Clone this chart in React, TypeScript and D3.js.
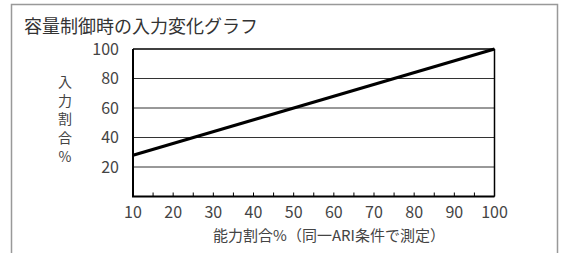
import React from "react";
import * as d3 from "d3";

const title = "容量制御時の入力変化グラフ";
const xTicks = [10, 20, 30, 40, 50, 60, 70, 80, 90, 100];
const xMinorTicks = [15, 25, 35, 45, 55, 65, 75, 85, 95];
const yTicks = [20, 40, 60, 80, 100];
const capacity = [10, 100];
const input = [28, 100];
const yTitleChars = ["入", "力", "割", "合", "%"];
const xTitle = "能力割合%（同一ARI条件で測定）";

const W = 565;
const H = 253;
const font = "'Noto Sans CJK JP', 'Noto Sans', sans-serif";

export default function App() {
  const left = 133, right = 494.5, top = 49, bottom = 196.5;
  const x = d3.scaleLinear().domain([10, 100]).range([left, right]);
  const y = d3.scaleLinear().domain([0, 100]).range([bottom, top]);
  const pts = capacity.map((c, i) => [c, input[i]] as [number, number]);
  const line = d3.line<[number, number]>().x(d => x(d[0])).y(d => y(d[1]));
  return (
    <svg width={W} height={H} style={{ position: "absolute", left: 0, top: 0, background: "#fff" }}>
      <rect x={0} y={0} width={W} height={H} fill="#fff" />
      <path d={`M11.5,${H} V4.5 H557.5 V${H}`} fill="none" stroke="#999" strokeWidth={1.5} />
      <text x={24} y={33} fontFamily={font} fontSize={18} fill="#333">{title}</text>
      {yTicks.filter(t => t < 100).map(t => (
        <line key={t} x1={left} x2={right} y1={y(t)} y2={y(t)} stroke="#333" strokeWidth={1} />
      ))}
      <line x1={left} x2={right} y1={y(100)} y2={y(100)} stroke="#000" strokeWidth={1.5} />
      <line x1={right} x2={right} y1={top} y2={bottom} stroke="#000" strokeWidth={1.5} />
      {[...xTicks, ...xMinorTicks].map(t => (
        <line key={"t" + t} x1={x(t)} x2={x(t)} y1={bottom} y2={bottom - 4} stroke="#000" strokeWidth={1} />
      ))}
      <path d={`M${left},${top} V${bottom} H${right}`} fill="none" stroke="#000" strokeWidth={2} />
      <path d={line(pts) || ""} fill="none" stroke="#000" strokeWidth={3.2} />
      {yTicks.map(t => (
        <text key={"y" + t} x={119} y={y(t)} dy="0.36em" textAnchor="end" fontFamily={font} fontSize={16} fill="#444">{t}</text>
      ))}
      {xTicks.map(t => (
        <text key={"x" + t} x={x(t)} y={218} textAnchor="middle" fontFamily={font} fontSize={16} fill="#444">{t}</text>
      ))}
      {yTitleChars.map((c, i) => (
        <text key={"c" + i} x={65} y={87 + i * 18.7} textAnchor="middle" fontFamily={font} fontSize={14} fill="#444">{c}</text>
      ))}
      <text x={329} y={241} textAnchor="middle" fontFamily={font} fontSize={15} fill="#444">{xTitle}</text>
    </svg>
  );
}
